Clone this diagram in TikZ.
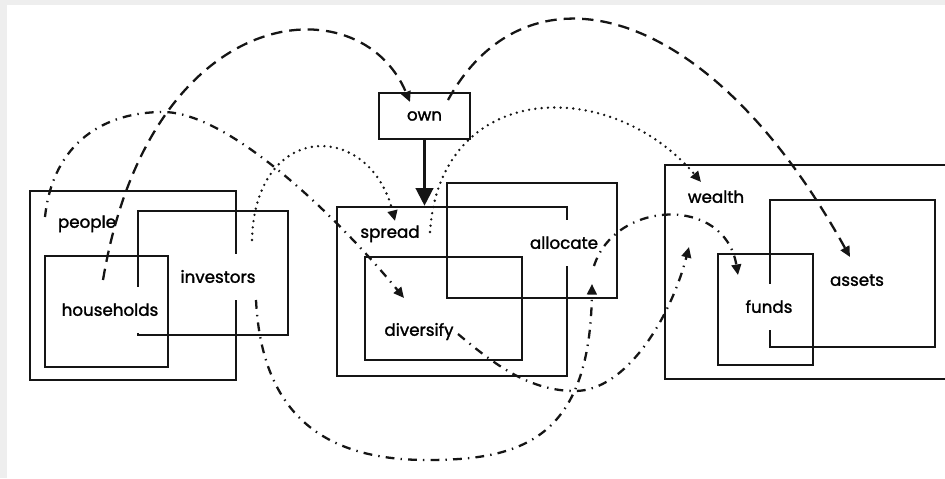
\documentclass[tikz,border=0pt]{standalone}
\usepackage{fontspec}
\setmainfont{Poppins}
\newfontfamily\setfont{Poppins}[FakeBold=1.6]
\usepackage{tikz}
\usetikzlibrary{arrows.meta, positioning, calc}
\definecolor{scangray}{HTML}{EEEEEE}
\definecolor{inkblack}{HTML}{151515}

\begin{document}
\begin{tikzpicture}[
    x=0.2mm, y=-0.2mm,
    font=\setfont\fontsize{9.5}{11}\selectfont,
    setbox/.style 2 args={rectangle, draw=inkblack, line width=1.5pt,
                          minimum width=#1*0.2mm, minimum height=#2*0.2mm, inner sep=0pt},
    setlabel/.style={fill=white, inner xsep=1.5pt, inner ysep=7.5pt,
                     text height=1.6ex, text depth=0.4ex},
    link/.style={line width=1.3pt, draw=inkblack, -{Triangle[width=5.5pt,length=6pt]}},
    dashlink/.style={link, dash pattern=on 6.5pt off 4pt},
    dotlink/.style={link, line width=1.5pt, dash pattern=on 0pt off 3.6pt, line cap=round},
    dashdotlink/.style={link, dash pattern=on 5pt off 3.5pt on 0.8pt off 3.5pt},
]
    \useasboundingbox (0,0) rectangle (945,478);
    \fill[scangray] (0,0) rectangle (945,478);
    \fill[white] (7,5) rectangle (945,478);
    \clip (0,0) rectangle (945,478);

    % Sets
    \node[setbox={206}{189}] (peopleset) at (133,285.5) {};
    \node[setbox={123}{111}] (householdset) at (106.5,311.5) {};
    \node[setbox={150}{124}] (investorset) at (213,273) {};
    \node[setbox={230}{169}] (spreadset) at (452,291.5) {};
    \node[setbox={170}{115}] (allocateset) at (532,240.5) {};
    \node[setbox={157}{103}] (diversifyset) at (443.5,308.5) {};
    \node[setbox={335}{214}] (wealthset) at (832.5,272) {};
    \node[setbox={165}{147}] (assetset) at (852.5,273.5) {};
    \node[setbox={95}{111}] (fundset) at (765.5,309.5) {};
    \node[setbox={91}{46}, fill=white] (own) at (424.5,116) {own};

    % Labels
    \node[setlabel] (people) at (87,222) {people};
    \node[setlabel] (households) at (110,310) {households};
    \node[setlabel] (investors) at (218,277) {investors};
    \node[setlabel] (spread) at (390,232) {spread};
    \node[setlabel] (allocate) at (564,243) {allocate};
    \node[setlabel] (diversify) at (419,330) {diversify};
    \node[setlabel] (wealth) at (716,197) {wealth};
    \node[setlabel] (assets) at (857,280) {assets};
    \node[setlabel] (funds) at (769,307) {funds};

    % Connectors
    \draw[line width=1.3pt, inkblack, -{Triangle[width=10pt,length=10pt]}] (own) -- (own |- spreadset.north);

    \draw[dashlink] ([shift={(-7,-30)}]households.center) .. controls +(47,-280) and +(-50,-120) .. ([shift={(-14.5,-14)}]own.center);
    \draw[dashlink] ([shift={(23.5,-16)}]own.center) .. controls +(77,-140) and +(-145,-262) .. ([shift={(-7,-23)}]assets.center);

    \draw[dotlink] ([shift={(34,-37)}]investors.center) .. controls +(3,-120) and +(-25,-101) .. ([shift={(5,-11)}]spread.center);
    \draw[dotlink] ([shift={(40,0)}]spread.center) .. controls +(10,-152) and +(-91,-107) .. ([shift={(-15,-15)}]wealth.center);

    \draw[dashdotlink] ([shift={(-42,-5)}]people.center) .. controls +(8,-75) and +(-58,0) .. ++(118,-105)
        .. controls +(67,0) and +(-64,-78) .. ([shift={(-15,-32)}]diversify.center);
    \draw[dashdotlink] ([shift={(38,23)}]investors.center) .. controls +(6,120) and +(-97,0) .. ++(171,160)
        .. controls +(93,0) and +(-2,156) .. ([shift={(28,41)}]allocate.center);
    \draw[dashdotlink] ([shift={(39,4)}]diversify.center) .. controls +(37,31) and +(-45,0) .. ++(117,57)
        .. controls +(50,0) and +(-19,73) .. ([shift={(-27,50)}]wealth.center);
    \draw[dashdotlink] ([shift={(30,23)}]allocate.center) .. controls +(21,-66) and +(-13,-80) .. ([shift={(-31,-32)}]funds.center);
\end{tikzpicture}
\end{document}
